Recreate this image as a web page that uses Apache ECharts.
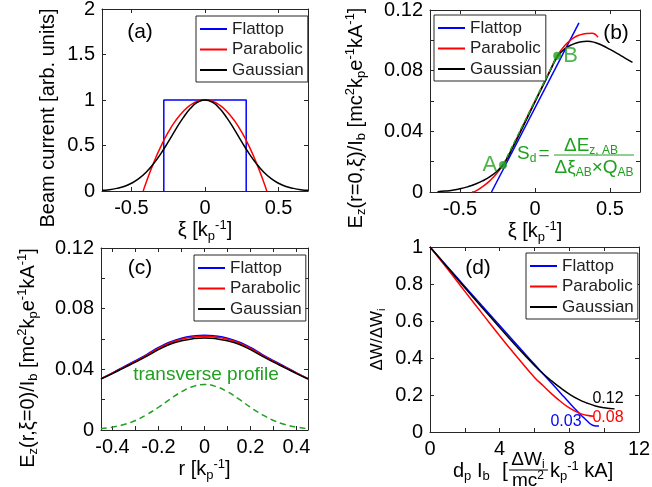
<!DOCTYPE html>
<html>
<head>
<meta charset="utf-8">
<script src="https://cdn.jsdelivr.net/npm/echarts@6/dist/echarts.min.js"></script>
<style>
  html, body { margin: 0; padding: 0; background: #fff; }
  #chart { width: 652px; height: 487px; }
</style>
</head>
<body>
<div id="chart"></div>
<script>
// ---- data ----
const seriesNames = ['Flattop', 'Parabolic', 'Gaussian']

// (a) beam current profiles
const flatXiA = [-0.28, -0.28, 0.28, 0.28]
const flatA = [0, 1, 1, 0]
const paraXiA = [-0.42, -0.4, -0.35, -0.3, -0.25, -0.2, -0.15, -0.1, -0.05, 0, 0.05, 0.1, 0.15, 0.2, 0.25, 0.3, 0.35, 0.4, 0.42]
const paraA = [0, 0.093, 0.306, 0.49, 0.646, 0.773, 0.872, 0.943, 0.986, 1, 0.986, 0.943, 0.872, 0.773, 0.646, 0.49, 0.306, 0.093, 0]
const gaussXiA = [-0.7, -0.65, -0.6, -0.55, -0.5, -0.45, -0.4, -0.35, -0.3, -0.25, -0.2, -0.15, -0.1, -0.05, 0, 0.05, 0.1, 0.15, 0.2, 0.25, 0.3, 0.35, 0.4, 0.45, 0.5, 0.55, 0.6, 0.65, 0.7]
const gaussA = [0.008, 0.015, 0.029, 0.05, 0.085, 0.135, 0.206, 0.298, 0.411, 0.539, 0.674, 0.801, 0.906, 0.976, 1, 0.976, 0.906, 0.801, 0.674, 0.539, 0.411, 0.298, 0.206, 0.135, 0.085, 0.05, 0.029, 0.015, 0.008]

// (b) on-axis field vs xi
const flatXiB = [-0.29, 0.293]
const flatB = [0, 0.1115]
const paraXiB = [-0.42, -0.4, -0.35, -0.3, -0.25, -0.2, -0.15, -0.1, -0.05, 0, 0.05, 0.1, 0.15, 0.2, 0.25, 0.3, 0.35, 0.38, 0.42]
const paraB = [0, 0.0004, 0.0035, 0.0075, 0.0128, 0.0198, 0.0295, 0.0397, 0.0499, 0.06, 0.07, 0.0802, 0.09, 0.0968, 0.1012, 0.1036, 0.1045, 0.1046, 0.102]
const gaussXiB = [-0.65, -0.6, -0.55, -0.5, -0.45, -0.4, -0.35, -0.3, -0.25, -0.2, -0.15, -0.1, -0.05, 0, 0.05, 0.1, 0.15, 0.2, 0.25, 0.3, 0.35, 0.4, 0.45, 0.5, 0.55, 0.6, 0.65]
const gaussB = [0.0002, 0.0006, 0.0012, 0.0021, 0.0034, 0.0051, 0.0073, 0.0102, 0.014, 0.0198, 0.029, 0.039, 0.0492, 0.0594, 0.0695, 0.0796, 0.0892, 0.0945, 0.0973, 0.0989, 0.0994, 0.0986, 0.0966, 0.094, 0.0912, 0.0883, 0.0855]
const pointXiAB = [-0.213, 0.148]
const pointAB = [0.0178, 0.0898]
const pointNames = ['A', 'B']

// (c) field vs r at xi = 0
const rC = [-0.45, -0.4, -0.35, -0.3, -0.25, -0.2, -0.15, -0.1, -0.05, 0, 0.05, 0.1, 0.15, 0.2, 0.25, 0.3, 0.35, 0.4, 0.45]
const flatC = [0.0339, 0.0377, 0.0417, 0.0457, 0.0499, 0.0544, 0.058, 0.0605, 0.0619, 0.0625, 0.0619, 0.0605, 0.058, 0.0544, 0.0499, 0.0457, 0.0417, 0.0377, 0.0339]
const paraC = [0.0338, 0.0375, 0.0414, 0.0453, 0.0494, 0.0538, 0.0574, 0.0598, 0.0612, 0.0618, 0.0612, 0.0598, 0.0574, 0.0538, 0.0494, 0.0453, 0.0414, 0.0375, 0.0338]
const gaussC = [0.0336, 0.0372, 0.041, 0.0447, 0.0487, 0.053, 0.0565, 0.0588, 0.0602, 0.0607, 0.0602, 0.0588, 0.0565, 0.053, 0.0487, 0.0447, 0.041, 0.0372, 0.0336]
const profileC = [0.0009, 0.0019, 0.0036, 0.0063, 0.0102, 0.015, 0.0203, 0.0252, 0.0287, 0.03, 0.0287, 0.0252, 0.0203, 0.015, 0.0102, 0.0063, 0.0036, 0.0019, 0.0009]

// (d) energy spread vs d_p I_b
const flatXD = [0, 1, 2, 3, 4, 5, 6, 7, 7.5, 8, 8.5, 9, 9.3, 9.5, 9.7]
const flatD = [1, 0.893, 0.787, 0.681, 0.576, 0.47, 0.366, 0.262, 0.21, 0.158, 0.108, 0.062, 0.038, 0.033, 0.032]
const paraXD = [0, 1, 2, 3, 4, 5, 6, 6.5, 7, 7.5, 8, 8.5, 9, 9.4]
const paraD = [1, 0.882, 0.76, 0.64, 0.52, 0.405, 0.295, 0.25, 0.205, 0.165, 0.13, 0.105, 0.09, 0.085]
const gaussXD = [0, 1, 2, 3, 4, 5, 6, 6.5, 7, 7.5, 8, 8.5, 9, 9.5, 10, 10.6]
const gaussD = [1, 0.89, 0.78, 0.672, 0.565, 0.46, 0.36, 0.315, 0.275, 0.238, 0.205, 0.178, 0.157, 0.141, 0.131, 0.125]
const endLabelsD = ['0.03', '0.08', '0.12']

// tick values
const xiTicks = [-0.5, 0, 0.5]
const currentTicks = [0, 0.5, 1, 1.5, 2]
const ezTicks = [0, 0.02, 0.04, 0.06, 0.08, 0.1, 0.12]
const ezLabels = [0, 0.04, 0.08, 0.12]
const rTicks = [-0.4, -0.3, -0.2, -0.1, 0, 0.1, 0.2, 0.3, 0.4]
const rLabels = [-0.4, -0.2, 0, 0.2, 0.4]
const dTicks = [0, 2, 4, 6, 8, 10, 12]
const dLabels = [0, 4, 8, 12]
const wTicks = [0, 0.2, 0.4, 0.6, 0.8, 1]

// ---- styling ----
const FONT = 'Liberation Sans, Arial, sans-serif'
const BLUE = '#0000ff'
const RED = '#ff0000'
const BLACK = '#000000'
const GREEN = '#20a020'
const AXIS = '#262626'

const zip = (xs, ys) => xs.map((x, i) => [x, ys[i]])

function rich(size, color) {
  const s = Math.round(size * 0.65)
  return {
    sub: { fontSize: s, fontFamily: FONT, color, fill: color, verticalAlign: 'bottom', lineHeight: s },
    sup: { fontSize: s, fontFamily: FONT, color, fill: color, verticalAlign: 'top', lineHeight: s }
  }
}

function axis(grid, pos, r, main) {
  const ax = {
    type: 'value', gridIndex: grid, position: pos, min: r.min, max: r.max,
    axisLine: { onZero: false, lineStyle: { color: AXIS, width: 1 } },
    axisTick: { inside: true, length: 4, customValues: r.ticks, lineStyle: { color: AXIS } },
    axisLabel: main
      ? { customValues: r.labels, fontFamily: FONT, fontSize: 20, color: '#000', margin: 7 }
      : { show: false },
    splitLine: { show: false }
  }
  if (main && r.name) {
    const size = r.nameSize || 20
    ax.name = r.name
    ax.nameLocation = 'middle'
    ax.nameGap = r.gap
    ax.nameTextStyle = {
      fontFamily: FONT, fontSize: size, color: '#000', lineHeight: Math.round(size * 1.2),
      padding: r.pad || 0, rich: rich(size, '#000')
    }
  }
  return ax
}

function line(name, xs, ys, color, idx, extra) {
  return Object.assign({
    type: 'line', name, xAxisIndex: idx, yAxisIndex: idx,
    data: zip(xs, ys), symbol: 'none', showSymbol: false, smooth: true,
    color, lineStyle: { color, width: 1.5 }, z: 3
  }, extra || {})
}

function legend(left, top) {
  return {
    data: seriesNames, left, top, orient: 'vertical', icon: 'rect',
    itemWidth: 27, itemHeight: 2, itemGap: 2.5, padding: [4, 4, 3, 4],
    borderColor: AXIS, borderWidth: 1, backgroundColor: '#fff', selectedMode: false,
    textStyle: { fontFamily: FONT, fontSize: 17, color: '#222', lineHeight: 18 }
  }
}

function label(text, x, y, size, color, align) {
  return {
    type: 'text', x, y, z: 10,
    style: {
      text, x: 0, y: 0, fontSize: size, fontFamily: FONT, fill: color,
      align: align || 'center', verticalAlign: 'middle', lineHeight: Math.round(size * 1.15),
      rich: rich(size, color)
    }
  }
}

const ezUnit = ' [mc{sup|2}k{sub|p}e{sup|-1}kA{sup|-1}]'
const xiRange = { min: -0.7, max: 0.7, ticks: xiTicks, labels: xiTicks, name: 'ξ [k{sub|p}{sup|-1}]', gap: 23 }

const xAxes = [
  axis(0, 'bottom', xiRange, true), axis(0, 'top', xiRange, false),
  axis(1, 'bottom', xiRange, true), axis(1, 'top', xiRange, false)
]
const rRange = { min: -0.45, max: 0.45, ticks: rTicks, labels: rLabels, name: 'r [k{sub|p}{sup|-1}]', gap: 20 }
const dRange = { min: 0, max: 12, ticks: dTicks, labels: dLabels }
xAxes.push(axis(2, 'bottom', rRange, true), axis(2, 'top', rRange, false))
xAxes.push(axis(3, 'bottom', dRange, true), axis(3, 'top', dRange, false))

const yA = { min: 0, max: 2, ticks: currentTicks, labels: currentTicks, name: 'Beam current [arb. units]', gap: 42, pad: [0, 36, 0, 0] }
const yB = { min: 0, max: 0.12, ticks: ezTicks, labels: ezLabels, name: 'E{sub|z}(r=0,ξ)/I{sub|b}' + ezUnit, gap: 62, pad: [0, 34, 0, 0] }
const yC = { min: 0, max: 0.12, ticks: ezTicks, labels: ezLabels, name: 'E{sub|z}(r,ξ=0)/I{sub|b}' + ezUnit, gap: 61, pad: [0, 38, 0, 0] }
const yD = { min: 0, max: 1, ticks: wTicks, labels: wTicks, name: 'ΔW/ΔW{sub|i}', gap: 43, nameSize: 17 }
const yAxes = [
  axis(0, 'left', yA, true), axis(0, 'right', yA, false),
  axis(1, 'left', yB, true), axis(1, 'right', yB, false),
  axis(2, 'left', yC, true), axis(2, 'right', yC, false),
  axis(3, 'left', yD, true), axis(3, 'right', yD, false)
]

const series = [
  // (a)
  line('Flattop', flatXiA, flatA, BLUE, 0, { smooth: false }),
  line('Parabolic', paraXiA, paraA, RED, 0),
  line('Gaussian', gaussXiA, gaussA, BLACK, 0),
  // (b)
  line('Flattop', flatXiB, flatB, BLUE, 2, { smooth: false }),
  line('Parabolic', paraXiB, paraB, RED, 2),
  line('Gaussian', gaussXiB, gaussB, BLACK, 2),
  line('AB', pointXiAB, pointAB, GREEN, 2, {
    smooth: false, z: 4, lineStyle: { color: GREEN, width: 1.5, type: [5, 3] }
  }),
  {
    type: 'scatter', name: 'points', xAxisIndex: 2, yAxisIndex: 2, z: 5,
    symbolSize: 8, itemStyle: { color: GREEN },
    data: pointNames.map((n, i) => ({
      name: n, value: [pointXiAB[i], pointAB[i]],
      label: { position: i === 0 ? 'left' : 'right', distance: 2 }
    })),
    label: { show: true, formatter: '{b}', fontFamily: FONT, fontSize: 22, color: GREEN }
  },
  // (c)
  line('Flattop', rC, flatC, BLUE, 4),
  line('Parabolic', rC, paraC, RED, 4),
  line('Gaussian', rC, gaussC, BLACK, 4),
  line('profile', rC, profileC, GREEN, 4, { lineStyle: { color: GREEN, width: 1.5, type: [6, 4] } }),
  // (d)
  line('Flattop', flatXD, flatD, BLUE, 6),
  line('Parabolic', paraXD, paraD, RED, 6),
  line('Gaussian', gaussXD, gaussD, BLACK, 6)
]

const graphic = [
  label('(a)', 140, 32, 21, '#000'),
  label('(b)', 616, 33, 21, '#000'),
  label('(c)', 140, 268, 21, '#000'),
  label('(d)', 478, 268, 21, '#000'),
  label('transverse profile', 206, 375, 19, GREEN),
  // Sd formula in (b)
  label('S{sub|d}', 517, 154, 19, GREEN, 'left'),
  label('=', 544, 154, 19, GREEN),
  label('ΔE{sub|z, AB}', 591, 146, 19, GREEN),
  { type: 'line', z: 10, shape: { x1: 554, y1: 155, x2: 634, y2: 155 }, style: { stroke: GREEN, lineWidth: 1 } },
  label('Δξ{sub|AB}×Q{sub|AB}', 594, 168, 19, GREEN),
  // end values in (d)
  label(endLabelsD[0], 566, 422, 16, BLUE),
  label(endLabelsD[1], 608, 418, 16, RED),
  label(endLabelsD[2], 608, 399, 16, BLACK),
  // x title of (d)
  label('d{sub|p} I{sub|b}', 453, 471, 20, '#000', 'left'),
  label('[', 505, 471, 21, '#000'),
  label('ΔW{sub|i}', 528, 460, 19, '#000'),
  { type: 'line', z: 10, shape: { x1: 509, y1: 470, x2: 548, y2: 470 }, style: { stroke: '#000', lineWidth: 1 } },
  label('mc{sup|2}', 528, 481, 19, '#000'),
  label('k{sub|p}{sup|-1} kA]', 550, 471, 20, '#000', 'left')
]

const gridBase = { outerBoundsMode: 'none', containLabel: false }
const option = {
  animation: false,
  backgroundColor: '#fff',
  grid: [
    { ...gridBase, left: 102, top: 9, width: 206, height: 182 },
    { ...gridBase, left: 430, top: 10, width: 210, height: 182 },
    { ...gridBase, left: 101, top: 248, width: 207, height: 182 },
    { ...gridBase, left: 430, top: 247, width: 209, height: 185 }
  ],
  legend: [legend(196, 16), legend(434, 15), legend(194, 255), legend(526, 253)],
  xAxis: xAxes,
  yAxis: yAxes,
  series,
  graphic
}

const chart = echarts.init(document.getElementById('chart'))
chart.setOption(option)
</script>
</body>
</html>
